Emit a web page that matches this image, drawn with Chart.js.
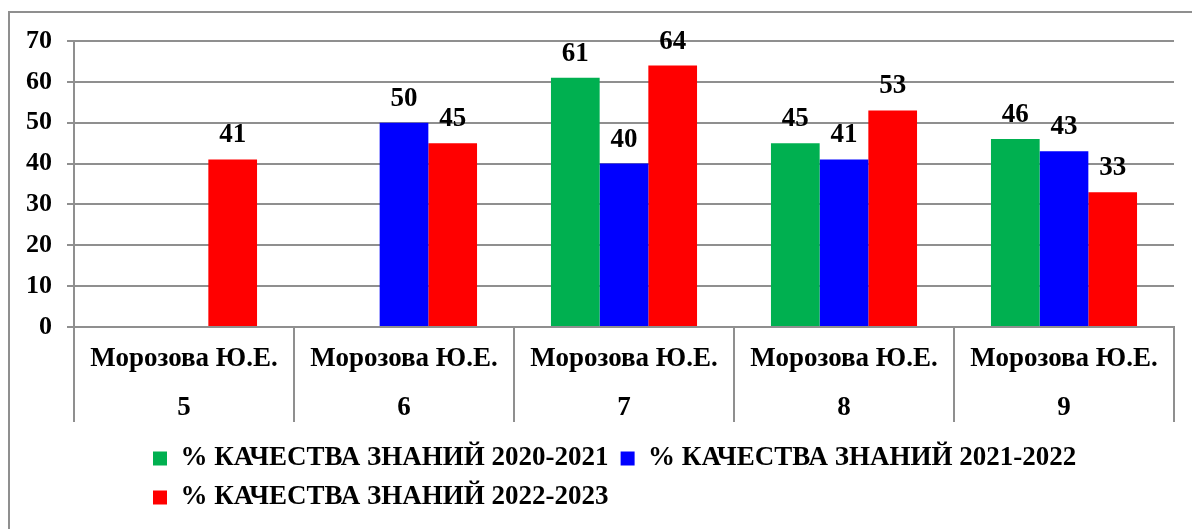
<!DOCTYPE html>
<html>
<head>
<meta charset="utf-8">
<script src="https://cdn.jsdelivr.net/npm/chart.js@4/dist/chart.umd.min.js"></script>
<style>
  html, body { margin: 0; padding: 0; background: #fff; }
  #wrap { position: relative; width: 1192px; height: 529px; overflow: hidden; }
  #frame { position: absolute; left: 8px; top: 11px; width: 1200px; height: 600px;
           border-left: 2px solid #8f8f8f; border-top: 2px solid #8f8f8f; }
  canvas { position: absolute; left: 0; top: 0; }
</style>
</head>
<body>
<div id="wrap">
  <div id="frame"></div>
  <canvas id="chart" width="1192" height="529"></canvas>
</div>
<script>
(() => {

const teacher = "Морозова Ю.Е.";
const grades = ["5", "6", "7", "8", "9"];

const quality2021 = [null, null, 61, 45, 46];
const quality2122 = [null, 50, 40, 41, 43];
const quality2223 = [41, 45, 64, 53, 33];

const seriesNames = [
  "% КАЧЕСТВА ЗНАНИЙ 2020-2021",
  "% КАЧЕСТВА ЗНАНИЙ 2021-2022",
  "% КАЧЕСТВА ЗНАНИЙ 2022-2023"
];
const seriesColors = ["#00b050", "#0000ff", "#ff0000"];

const serif = "'Liberation Serif', 'Times New Roman', serif";
const gridColor = "#8f8f8f";

/* ---------- PLUGINS ---------- */

// value labels above the bars
const valueLabels = {
  id: "valueLabels",
  afterDatasetsDraw(chart) {
    const ctx = chart.ctx;
    ctx.save();
    ctx.font = "bold 27px " + serif;
    ctx.fillStyle = "#000";
    ctx.textAlign = "center";
    ctx.textBaseline = "alphabetic";
    chart.data.datasets.forEach((ds, i) => {
      chart.getDatasetMeta(i).data.forEach((bar, j) => {
        const v = ds.data[j];
        if (v == null) return;
        ctx.fillText(String(v), bar.x, bar.y - 17);
      });
    });
    ctx.restore();
  }
};

// put the legend where the original has it
const legendPlace = {
  id: "legendPlace",
  afterLayout(chart) {
    const lg = chart.legend;
    if (!lg) return;
    const w = lg.right - lg.left;
    lg.left = 141;
    lg.right = lg.left + w;
    const h = lg.bottom - lg.top;
    lg.top = 433;
    lg.bottom = lg.top + h;
  }
};

/* ---------- CHART ---------- */

new Chart(document.getElementById("chart"), {
  type: "bar",
  data: {
    labels: grades.map(g => [teacher, g]),
    datasets: seriesNames.map((name, i) => ({
      label: name,
      data: [quality2021, quality2122, quality2223][i],
      backgroundColor: seriesColors[i],
      borderWidth: 0,
      barPercentage: 1,
      categoryPercentage: 0.664
    }))
  },
  options: {
    responsive: false,
    animation: false,
    layout: { padding: { left: 0, right: 18, top: 41, bottom: 0 } },
    plugins: {
      legend: {
        position: "bottom",
        align: "start",
        labels: {
          color: "#000",
          font: { family: serif, size: 27, weight: "bold" },
          boxWidth: 14,
          boxHeight: 14,
          padding: 12
        }
      },
      tooltip: { enabled: false }
    },
    scales: {
      x: {
        afterFit: s => { s.height = 114; },
        grid: {
          offset: true,
          drawOnChartArea: false,
          color: gridColor,
          lineWidth: 2,
          tickLength: 95
        },
        border: { color: gridColor, width: 2 },
        ticks: {
          color: "#000",
          padding: -87.5,
          maxRotation: 0,
          font: { family: serif, size: 27, weight: "bold", lineHeight: 1.815 }
        }
      },
      y: {
        min: 0,
        max: 70,
        afterFit: s => { s.width = 74; },
        grid: { color: gridColor, lineWidth: 2, tickLength: 7 },
        border: { color: gridColor, width: 2 },
        ticks: {
          stepSize: 10,
          color: "#000",
          padding: 15,
          font: { family: serif, size: 26, weight: "bold" }
        }
      }
    }
  },
  plugins: [valueLabels, legendPlace]
});

})();
</script>
</body>
</html>
